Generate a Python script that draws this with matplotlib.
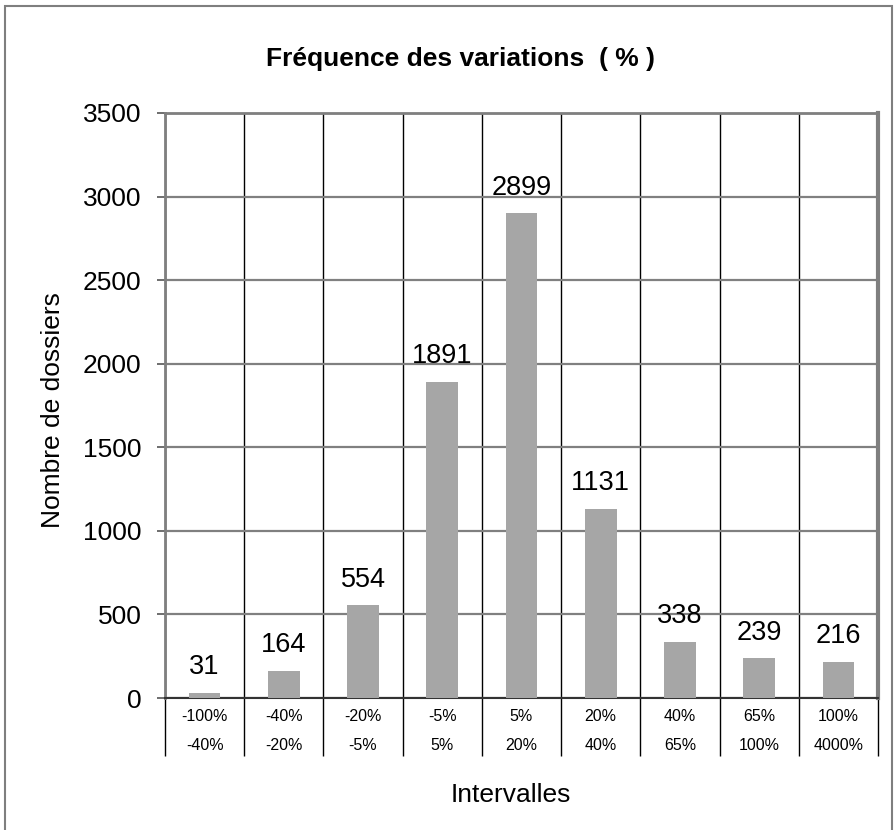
import matplotlib
matplotlib.use("Agg")
import matplotlib.pyplot as plt
from matplotlib.patches import Rectangle
import numpy as np

# data
low_bounds = ["-100%", "-40%", "-20%", "-5%", "5%", "20%", "40%", "65%", "100%"]
high_bounds = ["-40%", "-20%", "-5%", "5%", "20%", "40%", "65%", "100%", "4000%"]
counts = [31, 164, 554, 1891, 2899, 1131, 338, 239, 216]

plt.rcParams['font.family'] = ['Liberation Sans', 'DejaVu Sans']

W, H = 896, 830
fig = plt.figure(figsize=(W / 100, H / 100), dpi=100)

# plot area in pixels
left, right, top, bottom = 165, 878, 113, 698
ax = fig.add_axes([left / W, 1 - bottom / H, (right - left) / W, (bottom - top) / H])

x = np.arange(len(counts))
ax.bar(x, counts, width=0.4, color="#a6a6a6", zorder=3)

ax.set_xlim(-0.5, len(counts) - 0.5)
ax.set_ylim(0, 3500)
ax.set_yticks(np.arange(0, 3501, 500))
ax.tick_params(axis="y", labelsize=19, length=6, width=1.2, color="#555555", pad=11)

# category boundaries: black grid + long ticks under the axis
ax.set_xticks([])
ax.set_xticks(np.arange(-0.5, len(counts)), minor=True)
ax.tick_params(axis="x", which="minor", length=42, width=1.0, color="black", direction="out")
ax.grid(True, axis="x", which="minor", color="black", lw=1.0, zorder=1)
ax.grid(True, axis="y", color="#808080", lw=1.6, zorder=1)

for s in ["left", "right", "top"]:
    ax.spines[s].set_color("#7f7f7f")
    ax.spines[s].set_linewidth(2)
ax.spines["right"].set_linewidth(3)
ax.spines["bottom"].set_color("#333333")
ax.spines["bottom"].set_linewidth(1.5)

# value labels
for xi, v in zip(x, counts):
    ax.annotate(str(v), (xi, v), xytext=(0, 9), textcoords="offset points",
                ha="center", va="bottom", fontsize=19.5)

# interval labels (two rows)
trans = ax.get_xaxis_transform()
for xi, lo, hi in zip(x, low_bounds, high_bounds):
    ax.text(xi, -18 / (bottom - top), lo, transform=trans, ha="center", va="center", fontsize=11.5)
    ax.text(xi, -47 / (bottom - top), hi, transform=trans, ha="center", va="center", fontsize=11.5)

fig.text(460 / W, 1 - 59 / H, "Fréquence des variations  ( % )", ha="center", va="center",
         fontsize=19, fontweight="bold")
fig.text(53 / W, 1 - 410 / H, "Nombre de dossiers", rotation=90, ha="center", va="center", fontsize=19)
fig.text(511 / W, 1 - 795 / H, "Intervalles", ha="center", va="center", fontsize=19)

# outer chart border (bottom edge falls outside the picture)
fig.patches.append(Rectangle((5 / W, -10 / H), 887 / W, 834 / H, transform=fig.transFigure,
                             fill=False, edgecolor="#7f7f7f", lw=1.5))

fig.savefig("out.png", dpi=100)
